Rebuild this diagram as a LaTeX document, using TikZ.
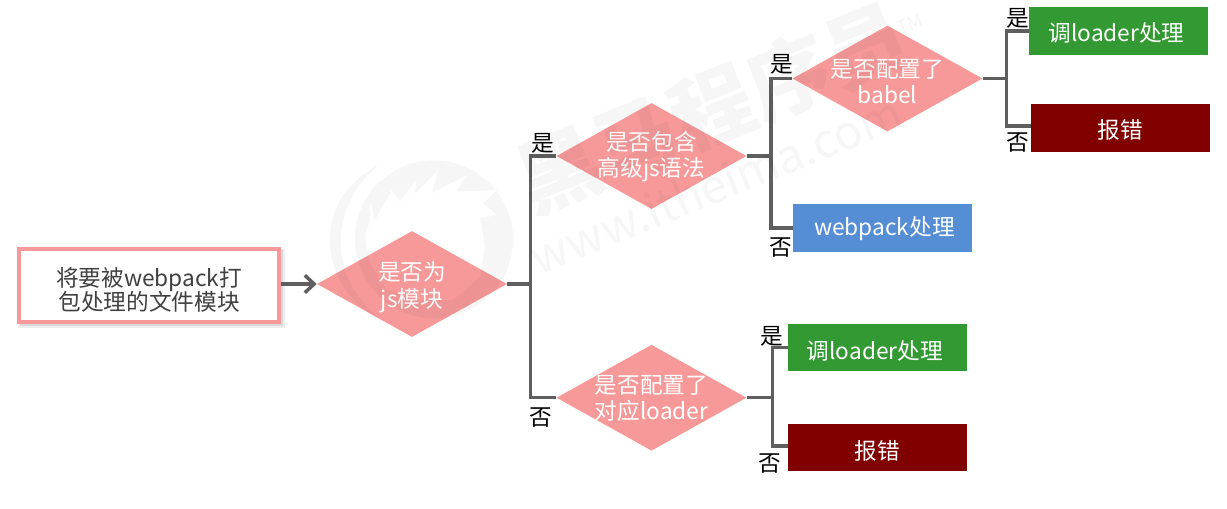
\documentclass[tikz,border=0pt]{standalone}
\usepackage{fontspec}
\setmainfont{Noto Sans CJK SC}
\usetikzlibrary{shapes.geometric,arrows.meta,calc}
\newcommand\lw[2]{\raisebox{-#1}[\height][\depth]{\makebox[0pt]{#2}}}
\definecolor{dpink}{HTML}{F79999}
\definecolor{lgrey}{HTML}{5F5F5F}
\definecolor{gr}{HTML}{339933}
\definecolor{mar}{HTML}{800000}
\definecolor{bl}{HTML}{558ED5}
\tikzset{
  diam/.style={diamond,aspect=1.78,fill=dpink,inner sep=0pt,minimum width=190*0.75pt,minimum height=106*0.75pt,text=white,align=center,font=\fontsize{17pt}{20pt}\selectfont},
  res/.style={fill=#1,inner sep=0pt,minimum width=179*0.75pt,minimum height=47.5*0.75pt,text=white,font=\fontsize{17pt}{20pt}\selectfont},
  lab/.style={text=black,inner sep=0pt,font=\fontsize{17pt}{20pt}\selectfont},
  conn/.style={draw=lgrey,line width=2.6pt,line join=miter},
  mark text/.style={text=black,inner sep=0pt,rotate=22}
}
\begin{document}
\begin{tikzpicture}[x=0.75pt,y=-0.75pt]
\useasboundingbox (0,0) rectangle (1227,508);
% nodes
\fill[black!7] (18,249) rectangle (285,328);
\fill[black!14] (20,250) rectangle (283,326);
\node[draw=dpink,line width=2.6pt,fill=white,inner sep=0pt,minimum width=260*0.75pt,minimum height=73*0.75pt,text=black!75,align=center,font=\fontsize{17pt}{18.5pt}\selectfont] (start) at (149,285.5) {\lw{3.2pt}{将要被webpack打}\\\lw{3.2pt}{包处理的文件模块}};
\node[diam] (d1) at (412,284) {\lw{2.6pt}{是否为}\\\lw{2.6pt}{js模块}};
\node[diam] (d2) at (651.5,156) {\lw{0.4pt}{是否包含}\\\lw{0.4pt}{高级js语法}};
\node[diam] (d3) at (887.5,78.5) {\lw{2.2pt}{是否配置了}\\\lw{2.2pt}{babel}};
\node[diam] (d4) at (651.5,397.7) {\lw{0.6pt}{是否配置了}\\\lw{0.6pt}{对应loader}};
\node[res=gr] (g1) at (1118.5,31) {\hspace{-3pt}\lw{1.5pt}{调loader处理}};
\node[res=mar] (r1) at (1120.5,128) {\lw{1.5pt}{报错}};
\node[res=bl] (b1) at (882.5,228) {\hspace{3pt}\lw{0.8pt}{webpack处理}};
\node[res=gr] (g2) at (877.5,347.5) {\hspace{-4pt}\lw{2.4pt}{调loader处理}};
\node[res=mar] (r2) at (877.5,447.5) {\lw{2.4pt}{报错}};
% junctions
\coordinate (j1) at (530.7,284);
\coordinate (j2) at (771,156);
\coordinate (j3) at (1006.7,78.5);
\coordinate (j4) at (772.3,397.7);
\coordinate (s1) at (start.east |- d1.west);
% connectors
\draw[conn,-{Straight Barb[length=7pt,width=13pt,line width=2.6pt]}] (s1) -- (d1.west);
\draw[conn] (d1.east) -- (j1);
\draw[conn] (d2.west) -| (j1) |- (d4.west);
\draw[conn] (d2.east) -- (j2);
\draw[conn] (d3.west) -| (j2) |- (b1.west);
\draw[conn] (d3.east) -- (j3);
\draw[conn] (g1.west) -| (j3) |- ([yshift=1.5pt]r1.west);
\draw[conn] (d4.east) -- (j4);
\draw[conn] (g2.west) -| (j4) |- ([yshift=1pt]r2.west);
% labels
\node[lab] (l1) at (543,143) {是};
\node[lab] (l2) at (541,418) {否};
\node[lab] (l3) at (782,64) {是};
\node[lab] (l4) at (781,248) {否};
\node[lab] (l5) at (1018,18) {是};
\node[lab] (l6) at (1018,143) {否};
\node[lab] (l7) at (772,336) {是};
\node[lab] (l8) at (770,464) {否};
% watermark, laid faintly over everything
\begin{scope}[opacity=0.035,transparency group]
\begin{scope}[shift={(320,150)},x=0.25pt,y=-0.25pt]
\fill (175,45) .. controls (60,110) and (30,190) .. (30,275) .. controls (30,370) and (90,470) .. (200,520) .. controls (110,460) and (62,370) .. (62,275) .. controls (62,190) and (100,110) .. (175,45) -- cycle;
\fill[even odd rule] (342,268) circle (237)
  (150,150) -- (165,210) -- (215,120) -- (240,155) -- (290,85) -- (285,130) -- (355,60) -- (335,130) -- (440,75) -- (410,125) -- (530,120) -- (490,160) -- (530,195) -- (480,205) -- (495,290) -- (480,380) -- (400,450) -- (300,450) -- (200,420) -- (150,340) -- (135,260) -- (150,210) -- cycle;
\end{scope}
\node[mark text,font=\bfseries\fontsize{62pt}{62pt}\selectfont] (wma) at (712,108) {黑马程序员};
\node[mark text,font=\fontsize{35pt}{35pt}\selectfont] (wmb) at (716,184) {www.itheima.com};
\node[mark text,font=\fontsize{14pt}{14pt}\selectfont] (wmc) at (910,24) {TM};
\end{scope}
\end{tikzpicture}
\end{document}
